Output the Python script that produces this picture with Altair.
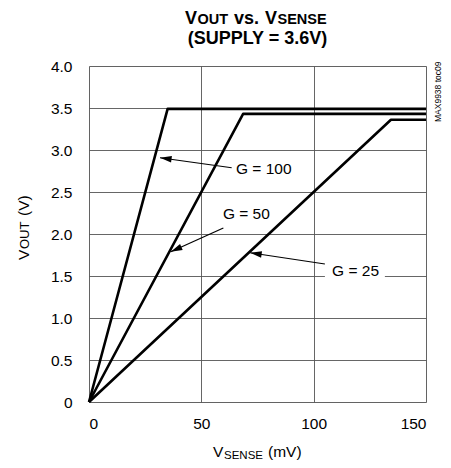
import math
import altair as alt
import pandas as pd

# ---- chart values ----
vsense_g100 = [0, 35.0, 150]
vout_g100 = [0, 3.49, 3.49]
vsense_g50 = [0, 68.6, 150]
vout_g50 = [0, 3.43, 3.43]
vsense_g25 = [0, 134.4, 150]
vout_g25 = [0, 3.36, 3.36]

gain_labels = ["G = 100", "G = 50", "G = 25"]
label_x = [65.4, 59.6, 108.2]
label_y = [2.771, 2.238, 1.560]
arrow_tail_x = [63.5, 59.8, 105.0]
arrow_tail_y = [2.789, 2.071, 1.643]
arrow_tip_x = [31.6, 36.4, 71.7]
arrow_tip_y = [2.908, 1.789, 1.777]

x_ticks = [0, 50, 100, 150]
y_ticks = [0, 0.5, 1.0, 1.5, 2.0, 2.5, 3.0, 3.5, 4.0]

W, H = 337, 336
FONT = "Liberation Sans"
LSIZE = 15.5

rows = []
for name, xs, ys in [("G100", vsense_g100, vout_g100), ("G50", vsense_g50, vout_g50), ("G25", vsense_g25, vout_g25)]:
    for i, (a, b) in enumerate(zip(xs, ys)):
        rows.append({"series": name, "order": i, "vsense": a, "vout": b})
curves = pd.DataFrame(rows)

px_per_x = W / 150.0
px_per_y = H / 4.0
angles = []
for tx, ty, hx, hy in zip(arrow_tail_x, arrow_tail_y, arrow_tip_x, arrow_tip_y):
    dx = (hx - tx) * px_per_x
    dy = -(hy - ty) * px_per_y
    angles.append(math.degrees(math.atan2(dx, -dy)) % 360)

ann = pd.DataFrame({
    "label": gain_labels, "lx": label_x, "ly": label_y,
    "tx": arrow_tail_x, "ty": arrow_tail_y,
    "hx": arrow_tip_x, "hy": arrow_tip_y, "ang": angles,
})

xscale = alt.Scale(domain=[0, 150], nice=False, zero=False)
yscale = alt.Scale(domain=[0, 4], nice=False, zero=False)

base = alt.Chart(curves).encode(
    x=alt.X("vsense:Q", scale=xscale,
            axis=alt.Axis(values=x_ticks, title=None, grid=True, ticks=False, domain=False,
                          labelFont=FONT, labelFontSize=LSIZE, labelColor="black", labelPadding=14,
                          gridColor="#555555", gridWidth=0.9)),
    y=alt.Y("vout:Q", scale=yscale,
            axis=alt.Axis(values=y_ticks, title=None, grid=True, ticks=False, domain=False,
                          labelFont=FONT, labelFontSize=LSIZE, labelColor="black", labelPadding=17,
                          labelExpr="datum.value == 0 ? '0' : format(datum.value, '.1f')",
                          gridColor="#555555", gridWidth=0.9)),
)

lines = base.mark_line(color="black", strokeWidth=2.6, strokeJoin="round").encode(
    detail="series:N", order="order:Q")

annb = alt.Chart(ann)
box = alt.Chart(pd.DataFrame({"x1": [105.0], "x2": [131.7], "y1": [1.452], "y2": [1.667]})).mark_rect(
    color="white").encode(x=alt.X("x1:Q", scale=xscale), x2="x2:Q",
                          y=alt.Y("y1:Q", scale=yscale), y2="y2:Q")
shafts = annb.mark_rule(color="black", strokeWidth=1.2).encode(
    x=alt.X("tx:Q", scale=xscale), y=alt.Y("ty:Q", scale=yscale), x2="hx:Q", y2="hy:Q")
heads = annb.mark_point(shape="M0,0L0.42,1.5L-0.42,1.5Z", filled=True, color="black",
                        opacity=1, size=240).encode(
    x=alt.X("hx:Q", scale=xscale), y=alt.Y("hy:Q", scale=yscale),
    angle=alt.Angle("ang:Q", scale=None))
glabels = annb.mark_text(align="left", baseline="middle", font=FONT, fontSize=LSIZE,
                         color="black").encode(
    x=alt.X("lx:Q", scale=xscale), y=alt.Y("ly:Q", scale=yscale), text="label:N")

one = alt.Data(values=[{"a": 1}])


def txt(s, x, y, size=16, bold=False, angle=0, align="left"):
    return alt.Chart(one).mark_text(
        text=s, fontSize=size, fontWeight="bold" if bold else "normal",
        angle=angle, align=align, baseline="alphabetic",
        font=FONT, color="black").encode(x=alt.value(x), y=alt.value(y))


pieces = [
    # title line 1
    txt("V", 96, -42, 18, True),
    txt("OUT", 108.5, -42, 14.5, True),
    txt("vs.", 145, -42, 18, True),
    txt("V", 176, -42, 18, True),
    txt("SENSE", 188.5, -42, 14.5, True),
    # title line 2
    txt("(SUPPLY = 3.6V)", W / 2, -22, 18, True, align="center"),
    # x title
    txt("V", 124, 391, LSIZE),
    txt("SENSE", 135, 393, 11.5),
    txt("(mV)", 179, 391, LSIZE),
    # y title
    txt("V", -60.5, 194, LSIZE, angle=270),
    txt("OUT", -60.5, 183, 13, angle=270),
    txt("(V)", -60.5, 150, LSIZE, angle=270),
    # side note
    txt("MAX9938 toc09", 351.5, 56, 8.5, angle=270),
]

chart = alt.layer(box, lines, shafts, heads, glabels, *pieces).properties(
    width=W, height=H,
    autosize=alt.AutoSizeParams(type="none"),
    padding={"left": 81, "top": 58, "right": 17, "bottom": 58},
).configure_view(stroke="black", strokeWidth=2.6).configure(background="white")

chart.save("out.html", embed_options={"renderer": "svg", "actions": False})
